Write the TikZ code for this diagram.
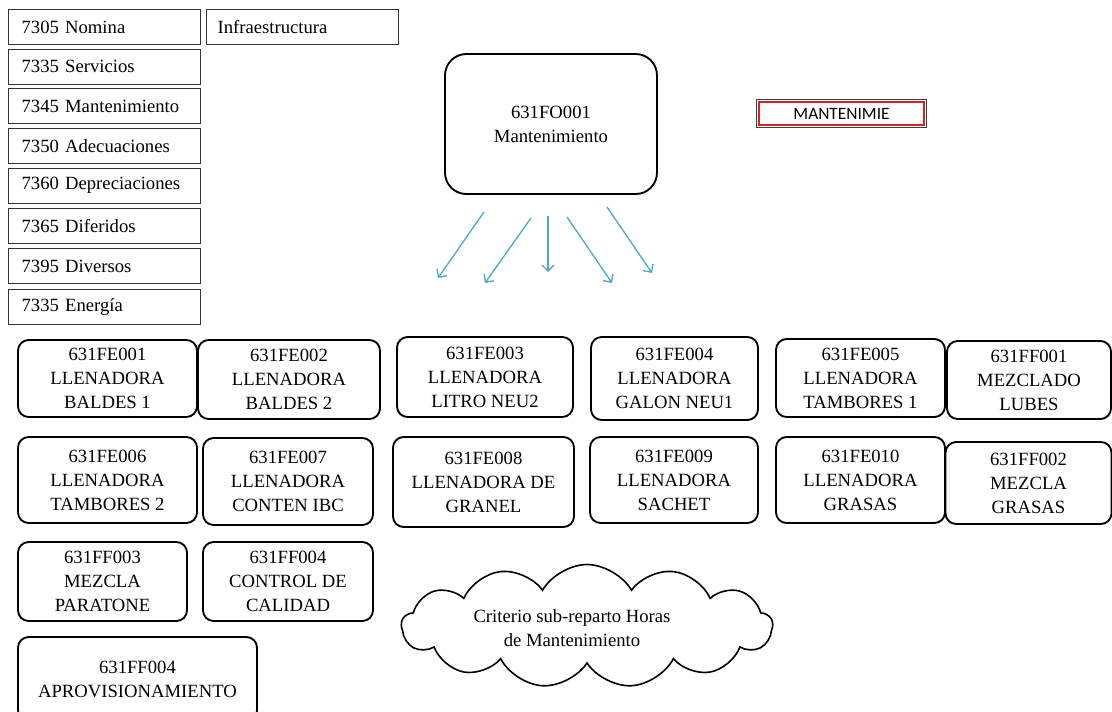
\documentclass[tikz,border=0pt]{standalone}
\usepackage{fontspec}
\setmainfont{Liberation Serif}
\newfontfamily\calib{Carlito}
\usetikzlibrary{shapes.symbols,arrows.meta}
\definecolor{aqua}{HTML}{4BACC6}
\definecolor{redline}{HTML}{E02020}
\tikzset{
  wh/.style 2 args={minimum width=#1*0.75pt,minimum height=#2*0.75pt},
  acct/.style={draw=black!80,line width=0.9pt,rectangle,anchor=north west,inner xsep=9.75pt,inner ysep=0pt,
    text width=124.5pt,minimum height=26.25pt,align=left,font=\fontsize{14}{18}\selectfont},
  rbox/.style={draw=black,line width=1.4pt,rounded corners=8pt,align=center,inner sep=0pt,
    font=\fontsize{14}{18}\selectfont},
  arr/.style={draw=aqua,line width=1pt,-{Straight Barb[length=4.5pt,width=9pt]}}
}
\begin{document}
\begin{tikzpicture}[x=0.75pt,y=-0.75pt]
\useasboundingbox (0,0) rectangle (1112,711);
\clip (0,0) rectangle (1112,711);

% account boxes
\node[acct] (a1) at (8,9) {7305 Nomina};
\node[acct] (a2) at (8,48.5) {7335 Servicios};
\node[acct] (a3) at (8,88) {7345 Mantenimiento};
\node[acct] (a4) at (8,128) {7350 Adecuaciones};
\node[acct] (a5) at (8,167.5) {7360 Depreciaciones};
\node[acct] (a6) at (8,208) {7365 Diferidos};
\node[acct] (a7) at (8,248) {7395 Diversos};
\node[acct] (a8) at (8,289) {7335 Energía};
\node[acct,inner xsep=8.25pt,text width=127.5pt] (inf) at (206,9) {Infraestructura};

% main box
\node[rbox,rounded corners=16pt,wh={212}{140}] (main) at (551,124) {631FO001\\Mantenimiento};

% MANTENIMIE
\node[draw=redline,line width=0.8pt,inner sep=0pt,wh={165}{23},font=\calib\fontsize{13}{14}\selectfont] (mt) at (841.5,113.5) {MANTENIMIE};
\draw[black!75,line width=0.7pt] ([shift={(-1.3pt,1.3pt)}]mt.north west) rectangle ([shift={(1.3pt,-1.3pt)}]mt.south east);

% arrows
\coordinate (s1) at (484,212); \coordinate (e1) at (438,278);
\coordinate (s2) at (531,218); \coordinate (e2) at (485,283);
\coordinate (s3) at (548,216); \coordinate (e3) at (548,272);
\coordinate (s4) at (567,217); \coordinate (e4) at (612,283);
\coordinate (s5) at (607,207); \coordinate (e5) at (652,273);
\draw[arr] (s1) -- (e1);
\draw[arr] (s2) -- (e2);
\draw[arr] (s3) -- (e3);
\draw[arr] (s4) -- (e4);
\draw[arr] (s5) -- (e5);

% row 1
\node[rbox,wh={179}{77}] (fe1) at (107.5,378.5) {631FE001\\LLENADORA\\BALDES 1};
\node[rbox,wh={182}{79}] (fe2) at (289,379.5) {631FE002\\LLENADORA\\BALDES 2};
\node[rbox,wh={176}{80}] (fe3) at (485,377) {631FE003\\LLENADORA\\LITRO NEU2};
\node[rbox,wh={167}{83}] (fe4) at (674.5,378.5) {631FE004\\LLENADORA\\GALON NEU1};
\node[rbox,wh={169}{78}] (fe5) at (860.5,378) {631FE005\\LLENADORA\\TAMBORES 1};
\node[rbox,wh={164}{78}] (ff1) at (1029,380) {631FF001\\MEZCLADO\\LUBES};
% row 2
\node[rbox,wh={179}{86}] (fe6) at (107.5,480) {631FE006\\LLENADORA\\TAMBORES 2};
\node[rbox,wh={170}{87}] (fe7) at (288,481.5) {631FE007\\LLENADORA\\CONTEN IBC};
\node[rbox,wh={181}{90}] (fe8) at (483.5,482) {631FE008\\LLENADORA DE\\GRANEL};
\node[rbox,wh={168}{86}] (fe9) at (674,480) {631FE009\\LLENADORA\\SACHET};
\node[rbox,wh={169}{86}] (fe10) at (860.5,480) {631FE010\\LLENADORA\\GRASAS};
\node[rbox,wh={166}{82}] (ff2) at (1028.5,483) {631FF002\\MEZCLA\\GRASAS};
% row 3
\node[rbox,wh={169}{79}] (ff3) at (102.5,581.5) {631FF003\\MEZCLA\\PARATONE};
\node[rbox,wh={170}{79}] (ff4) at (288,581.5) {631FF004\\CONTROL DE\\CALIDAD};
% row 4
\node[rbox,wh={239}{84}] (ff5) at (137.5,679) {631FF004\\APROVISIONAMIENTO};

% cloud
\node[cloud,draw,line width=1.2pt,cloud puffs=13,cloud puff arc=120,aspect=3,inner sep=0pt,
  wh={371}{123}] (cl) at (587,626) {};
\node[align=center,font=\fontsize{14}{18}\selectfont] (clt) at (572,628) {Criterio sub-reparto Horas\\de Mantenimiento};
\end{tikzpicture}
\end{document}
